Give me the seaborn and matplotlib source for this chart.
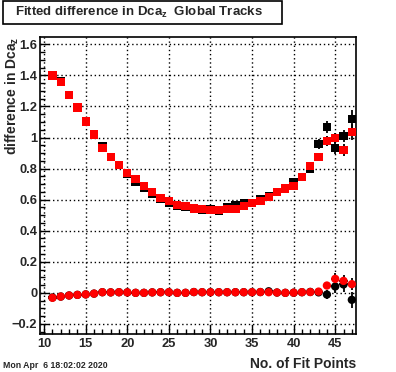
import numpy as np
import pandas as pd
import matplotlib
matplotlib.use("Agg")
import matplotlib.pyplot as plt
import seaborn as sns
from matplotlib.ticker import MultipleLocator, FuncFormatter
from matplotlib.patches import Rectangle

# ---------------- data ----------------
fit_points = list(range(11, 48))

# upper series (squares)
mean_black = [1.40, 1.36, 1.275, 1.195, 1.105, 1.02, 0.944, 0.875, 0.823, 0.765,
              0.715, 0.676, 0.636, 0.605, 0.582, 0.562, 0.555, 0.542, 0.535, 0.540,
              0.531, 0.550, 0.567, 0.580, 0.578, 0.600, 0.621, 0.649, 0.672, 0.710,
              0.744, 0.796, 0.959, 1.068, 0.933, 1.010, 1.120]
mean_red = [1.40, 1.359, 1.273, 1.194, 1.103, 1.019, 0.933, 0.875, 0.823, 0.772,
            0.731, 0.686, 0.649, 0.610, 0.591, 0.567, 0.557, 0.544, 0.538, 0.534,
            0.533, 0.540, 0.540, 0.560, 0.578, 0.591, 0.615, 0.649, 0.672, 0.686,
            0.744, 0.815, 0.875, 0.978, 0.997, 0.918, 1.036]
mean_black_err = [0.005] * 30 + [0.01, 0.015, 0.03, 0.04, 0.04, 0.04, 0.06]
mean_red_err = [0.005] * 30 + [0.01, 0.015, 0.02, 0.03, 0.035, 0.04, 0.05]

# lower series (circles)
sigma_black = [-0.030, -0.024, -0.017, -0.013, -0.010, -0.005, 0.004, 0.003, 0.004, 0.003,
               0.000, 0.000, 0.003, 0.004, 0.004, 0.000, 0.000, 0.005, 0.004, 0.004,
               0.004, 0.004, 0.004, 0.004, 0.004, 0.005, 0.010, 0.002, 0.000, 0.001,
               0.004, 0.006, 0.003, -0.011, 0.041, 0.054, -0.045]
sigma_red = [-0.032, -0.024, -0.017, -0.013, -0.010, -0.005, 0.004, 0.003, 0.004, 0.003,
             0.000, 0.000, 0.003, 0.004, 0.004, 0.000, 0.000, 0.005, 0.004, 0.004,
             0.004, 0.004, 0.004, 0.004, 0.004, 0.005, 0.004, 0.002, 0.000, 0.001,
             0.004, 0.005, 0.008, 0.047, 0.090, 0.077, 0.056]
sigma_black_err = [0.005] * 30 + [0.01, 0.015, 0.02, 0.03, 0.04, 0.05, 0.05]
sigma_red_err = [0.005] * 30 + [0.01, 0.01, 0.015, 0.025, 0.035, 0.04, 0.04]

x_ticks = [10, 15, 20, 25, 30, 35, 40, 45]
y_ticks = [-0.2, 0, 0.2, 0.4, 0.6, 0.8, 1.0, 1.2, 1.4, 1.6]

title = "Fitted difference in Dca$_{z}$  Global Tracks"
ylabel = "difference in Dca$_{z}$"
xlabel = "No. of Fit Points"
stamp = "Mon Apr  6 18:02:02 2020"

# ---------------- style ----------------
sns.set_style("ticks")
plt.rcParams["font.family"] = ["Liberation Sans", "DejaVu Sans"]
plt.rcParams["font.weight"] = "bold"
plt.rcParams["mathtext.default"] = "regular"

W, H = 396, 372
fig = plt.figure(figsize=(W / 100, H / 100), dpi=100)
fig.patch.set_facecolor("white")
ax = fig.add_axes([40 / W, 1 - 334 / H, 316 / W, 297 / H])
ax.set_facecolor("white")

frames = []
for name, ys, kind in [("black", mean_black, "square"), ("black", sigma_black, "circle"),
                       ("red", mean_red, "square"), ("red", sigma_red, "circle")]:
    frames.append(pd.DataFrame({"x": fit_points, "y": ys, "series": name, "kind": kind}))
df = pd.concat(frames, ignore_index=True)

# error bars (black lines)
for ys, es in [(mean_black, mean_black_err), (sigma_black, sigma_black_err),
               (mean_red, mean_red_err), (sigma_red, sigma_red_err)]:
    ax.errorbar(fit_points, ys, xerr=0.5, yerr=es, fmt="none", ecolor="black",
                elinewidth=1.3, capsize=0, zorder=2)

sns.scatterplot(data=df, x="x", y="y", hue="series", style="kind",
                palette={"black": "black", "red": "#ff0000"},
                markers={"square": "s", "circle": "o"}, s=36, linewidth=0,
                legend=False, ax=ax, zorder=3)

ax.set_xlim(9.5, 47.5)
ax.set_ylim(-0.265, 1.647)
ax.set_xlabel("")
ax.set_ylabel("")

ax.xaxis.set_major_locator(MultipleLocator(5))
ax.xaxis.set_minor_locator(MultipleLocator(1))
ax.set_yticks(y_ticks)
ax.yaxis.set_minor_locator(MultipleLocator(0.05))


def yfmt(v, pos):
    s = f"{v:.1f}"
    if s.endswith(".0"):
        s = s[:-2]
    if s == "-0":
        s = "0"
    return s.replace("-", "\u2212")


ax.yaxis.set_major_formatter(FuncFormatter(yfmt))
ax.set_xticks(x_ticks)

ax.tick_params(axis="both", which="major", direction="in", length=6.5, width=1,
               labelsize=9.3, color="black")
ax.tick_params(axis="both", which="minor", direction="in", length=3.5, width=1,
               color="black")
ax.tick_params(axis="y", which="both", pad=2)
ax.tick_params(axis="x", which="both", pad=3)
for lab in ax.get_xticklabels() + ax.get_yticklabels():
    lab.set_fontweight("bold")

ax.grid(True, which="major", color="black", linestyle=(0, (1, 2)), linewidth=1)
ax.set_axisbelow(False)
for sp in ax.spines.values():
    sp.set_visible(True)
    sp.set_color("black")
    sp.set_linewidth(1.2)

# title box
fig.add_artist(Rectangle((3 / W, 1 - 24 / H), 279 / W, 23 / H, transform=fig.transFigure,
                         facecolor="white", edgecolor="black", linewidth=1.2))
fig.text(139 / W, 1 - 12.5 / H, title, ha="center", va="center",
         fontsize=9.5, fontweight="bold")

fig.text(12 / W, 1 - 37 / H, ylabel, rotation=90, ha="center", va="top",
         fontsize=10, fontweight="bold")
fig.text(356 / W, 1 - 364 / H, xlabel, ha="right", va="center",
         fontsize=10, fontweight="bold")
fig.text(3 / W, 1 - 365 / H, stamp, ha="left", va="center",
         fontsize=6.3, fontweight="bold")

fig.savefig("out.png", dpi=100)
